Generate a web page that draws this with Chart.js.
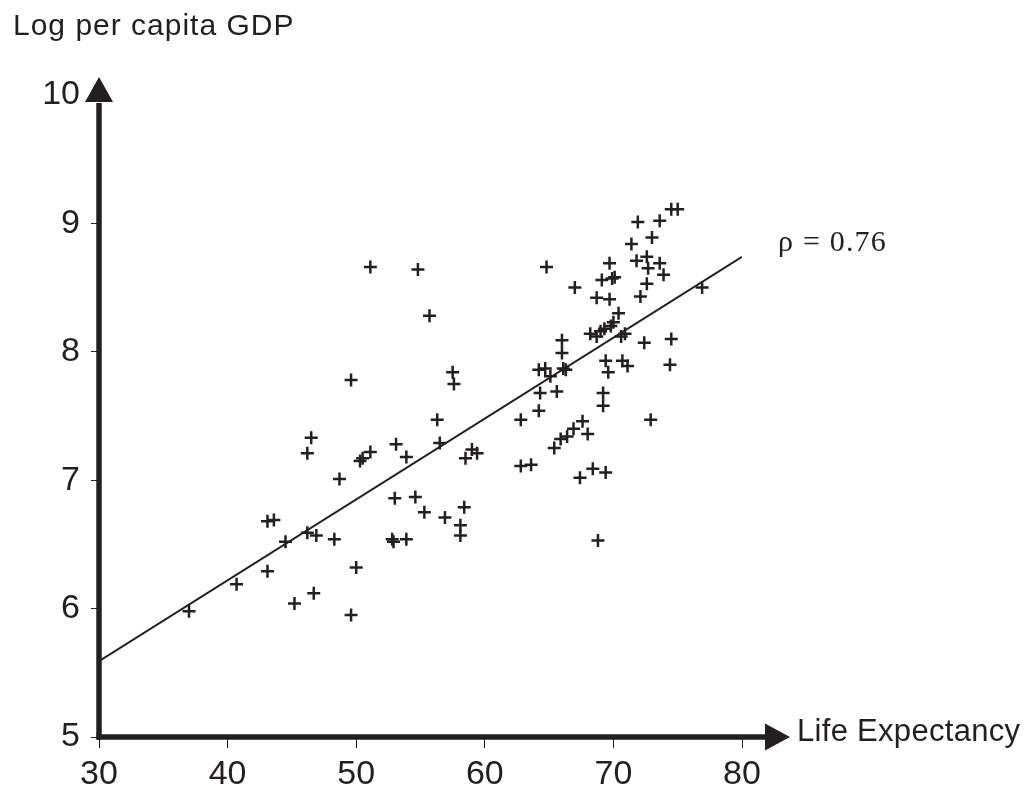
<!DOCTYPE html>
<html>
<head>
<meta charset="utf-8">
<script src="https://cdn.jsdelivr.net/npm/chart.js@4"></script>
<style>
  html, body { margin: 0; padding: 0; background: #ffffff; }
  #wrap { position: relative; width: 1031px; height: 792px; }
</style>
</head>
<body>
<div id="wrap"><canvas id="gdpChart"></canvas></div>
<script>
// Life expectancy (x) vs log per capita GDP (y)
const lifeExp = [
  37.0, 40.7, 43.1, 43.1, 43.6, 44.5, 45.2, 46.2, 46.9, 46.7,
  46.2, 46.5, 48.3, 48.7, 50.0, 49.6, 50.3, 50.5, 51.1, 53.1,
  53.9, 53.0, 52.8, 52.9, 53.9, 51.1, 49.6, 54.8, 55.7, 57.5,
  57.6, 56.3, 56.5, 58.5, 59.0, 59.4, 62.8, 64.2, 62.8, 63.6,
  64.3, 65.6, 64.8, 67.0, 66.0, 66.0, 64.2, 64.7, 65.1, 66.1,
  66.3, 68.2, 68.7, 69.0, 69.3, 69.8, 70.0, 70.4, 70.6, 70.9,
  68.7, 69.7, 69.1, 69.9, 70.1, 69.7, 69.4, 69.6, 70.7, 71.1,
  69.2, 69.2, 65.4, 65.9, 66.4, 66.9, 67.6, 68.0, 68.4, 67.4,
  69.4, 72.9, 68.8, 72.4, 74.5, 74.4, 76.9, 72.1, 72.6, 72.7,
  71.8, 72.6, 73.6, 73.9, 71.4, 73.0, 71.9, 73.6, 74.5, 75.0,
  54.6, 55.3, 56.9, 58.4, 58.1, 58.1
];
const logGdp = [
  5.98, 6.19, 6.29, 6.68, 6.69, 6.52, 6.04, 6.59, 6.57, 6.12,
  7.21, 7.33, 6.54, 7.01, 6.32, 5.95, 7.15, 7.17, 7.22, 7.28,
  7.18, 6.86, 6.54, 6.52, 6.54, 8.66, 7.78, 8.64, 8.28, 7.84,
  7.75, 7.47, 7.29, 7.17, 7.24, 7.21, 7.47, 7.54, 7.11, 7.12,
  7.68, 7.69, 8.66, 8.50, 8.09, 7.99, 7.86, 7.87, 7.81, 7.87,
  7.86, 8.14, 8.12, 8.16, 8.18, 8.20, 8.23, 8.30, 8.12, 8.14,
  8.42, 8.41, 8.56, 8.57, 8.58, 8.69, 7.93, 7.84, 7.93, 7.89,
  7.68, 7.58, 7.25, 7.32, 7.34, 7.40, 7.46, 7.36, 7.09, 7.02,
  7.06, 7.47, 6.53, 8.07, 8.10, 7.90, 8.50, 8.43, 8.53, 8.65,
  8.71, 8.74, 8.69, 8.60, 8.84, 8.89, 9.01, 9.02, 9.11, 9.11,
  6.87, 6.75, 6.71, 6.79, 6.65, 6.57
];

// fitted line end points
const fitX = [30, 80];
const fitY = [5.59, 8.74];

const xTicks = [30, 40, 50, 60, 70, 80];
const yTicks = [5, 6, 7, 8, 9, 10];

const corrLabel = 'ρ = 0.76';
const corrPos = [82.8, 8.85];

const ink = '#231f20';

const points = lifeExp.map((x, i) => ({ x: x, y: logGdp[i] }));
const fitLine = fitX.map((x, i) => ({ x: x, y: fitY[i] }));

// thick axes with arrow heads, axis names and the rho note
const decorations = {
    id: 'decorations',
    afterDraw(chart) {
        const ctx = chart.ctx;
        const a = chart.chartArea;
        ctx.save();
        ctx.strokeStyle = ink;
        ctx.fillStyle = ink;
        ctx.lineWidth = 5.5;

        // y axis
        ctx.beginPath();
        ctx.moveTo(a.left, a.bottom + 2.5);
        ctx.lineTo(a.left, a.top + 8);
        ctx.stroke();
        ctx.beginPath();
        ctx.moveTo(a.left, a.top - 18);
        ctx.lineTo(a.left - 14, a.top + 7);
        ctx.lineTo(a.left + 14, a.top + 7);
        ctx.closePath();
        ctx.fill();

        // x axis
        ctx.beginPath();
        ctx.moveTo(a.left - 2.5, a.bottom);
        ctx.lineTo(a.right + 24, a.bottom);
        ctx.stroke();
        ctx.beginPath();
        ctx.moveTo(a.right + 48, a.bottom);
        ctx.lineTo(a.right + 23, a.bottom - 13.5);
        ctx.lineTo(a.right + 23, a.bottom + 13.5);
        ctx.closePath();
        ctx.fill();

        // axis names
        ctx.textAlign = 'left';
        ctx.textBaseline = 'alphabetic';
        ctx.font = '30px "Liberation Sans", Arial, sans-serif';
        ctx.letterSpacing = '1px';
        ctx.fillText('Log per capita GDP', 13, 35);
        ctx.font = '31px "Liberation Sans", Arial, sans-serif';
        ctx.letterSpacing = '0.3px';
        ctx.fillText('Life Expectancy', a.right + 55, a.bottom + 4);

        // correlation note
        const xs = chart.scales.x, ys = chart.scales.y;
        ctx.font = '30px "Liberation Serif", "Times New Roman", serif';
        ctx.letterSpacing = '1.2px';
        ctx.textBaseline = 'middle';
        ctx.fillText(corrLabel, xs.getPixelForValue(corrPos[0]), ys.getPixelForValue(corrPos[1]));
        ctx.restore();
    }
};

document.addEventListener('DOMContentLoaded', function() {
    initChart();
});

function initChart() {
    const el = document.getElementById('gdpChart');
    new Chart(el, {
        type: 'scatter',
        data: {
            datasets: [{
                label: 'Countries',
                data: points,
                pointStyle: 'cross',
                pointRadius: 6.5,
                pointBorderWidth: 2.5,
                borderColor: ink,
                backgroundColor: ink
            }, {
                type: 'line',
                label: 'Fit',
                data: fitLine,
                borderColor: ink,
                borderWidth: 2,
                pointRadius: 0,
                fill: false
            }]
        },
        options: {
            responsive: true,
            maintainAspectRatio: false,
            animation: false,
            layout: {
                padding: { top: 95, right: 289, bottom: 0, left: 0 }
            },
            plugins: {
                legend: { display: false },
                tooltip: { enabled: false }
            },
            scales: {
                x: {
                    type: 'linear',
                    min: 30,
                    max: 80,
                    afterFit: function(s) { s.height = 55; },
                    afterBuildTicks: function(s) { s.ticks = xTicks.map(v => ({ value: v })); },
                    border: { display: false },
                    grid: {
                        drawOnChartArea: false,
                        drawTicks: true,
                        tickLength: 11,
                        color: ink,
                        lineWidth: 1
                    },
                    ticks: {
                        color: ink,
                        padding: 6,
                        maxRotation: 0,
                        font: { family: '"Liberation Sans", Arial, sans-serif', size: 34 }
                    }
                },
                y: {
                    type: 'linear',
                    min: 5,
                    max: 10,
                    afterFit: function(s) { s.width = 99; },
                    afterBuildTicks: function(s) { s.ticks = yTicks.map(v => ({ value: v })); },
                    border: { display: false },
                    grid: {
                        drawOnChartArea: false,
                        drawTicks: true,
                        tickLength: 8,
                        color: ink,
                        lineWidth: 1
                    },
                    ticks: {
                        color: ink,
                        padding: 11,
                        font: { family: '"Liberation Sans", Arial, sans-serif', size: 34 }
                    }
                }
            }
        },
        plugins: [decorations]
    });
}
</script>
</body>
</html>
